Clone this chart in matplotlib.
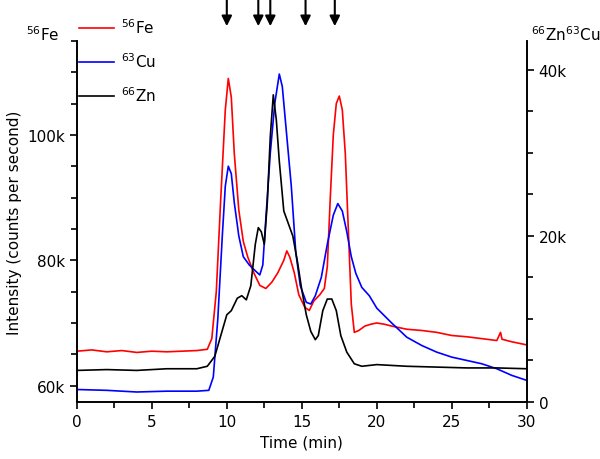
import matplotlib
matplotlib.use('Agg')
import matplotlib.pyplot as plt
from matplotlib.ticker import MultipleLocator, FuncFormatter

# 56Fe (left axis, counts per second)
fe_t = [0, 1, 2, 3, 4, 5, 6, 7, 8, 8.7, 9.0, 9.3, 9.6, 9.9, 10.1, 10.3, 10.5, 10.8,
        11.1, 11.4, 11.8, 12.2, 12.6, 13.0, 13.4, 13.8, 14.0, 14.2, 14.5, 14.8, 15.2,
        15.5, 15.8, 16.2, 16.5, 16.7, 16.9, 17.1, 17.3, 17.5, 17.7, 17.9, 18.1, 18.3,
        18.5, 18.8, 19.2, 19.6, 20.0, 20.5, 21, 22, 23, 24, 25, 26, 27, 28, 28.25,
        28.35, 29, 30]
fe_v = [65.5, 65.7, 65.4, 65.6, 65.3, 65.5, 65.4, 65.5, 65.6, 65.8, 67.5, 75, 90, 104,
        109, 106, 97, 88, 83, 80.5, 78, 76, 75.5, 76.5, 78, 80, 81.5, 80.5, 78, 74.5,
        72.5, 72, 73.5, 74.5, 75.5, 79, 90, 100, 105, 106.2, 104, 97, 85, 73, 68.5,
        68.8, 69.5, 69.8, 70, 69.8, 69.5, 69, 68.8, 68.5, 68, 67.8, 67.5, 67.2, 68.5,
        67.4, 67, 66.5]

# 63Cu (right axis)
cu_t = [0, 2, 4, 6, 8, 8.8, 9.1, 9.4, 9.7, 9.9, 10.1, 10.3, 10.5, 10.8, 11.1, 11.5,
        11.9, 12.2, 12.4, 12.6, 12.9, 13.2, 13.5, 13.7, 13.9, 14.1, 14.3, 14.6, 14.9,
        15.3, 15.6, 15.9, 16.3, 16.7, 17.1, 17.4, 17.7, 18.0, 18.3, 18.6, 19.0, 19.5,
        20, 21, 22, 23, 24, 25, 26, 27, 28, 29, 30]
cu_v = [1.5, 1.4, 1.2, 1.3, 1.3, 1.4, 3, 10, 20, 26, 28.4, 27.5, 24, 20, 17.5, 16.5,
        15.8, 15.3, 16.5, 22, 30, 36, 39.5, 38, 34, 30, 26, 18, 14, 12, 11.8, 12.8, 15,
        19, 22.5, 23.9, 23, 20.5, 17.5, 15.5, 13.8, 12.8, 11.3, 9.5, 7.8, 6.8, 6.0, 5.4,
        5.0, 4.6, 4.0, 3.2, 2.6]

# 66Zn (right axis)
zn_t = [0, 2, 4, 6, 8, 8.7, 9.2, 9.6, 10.0, 10.3, 10.7, 11.0, 11.3, 11.6, 11.9, 12.1,
        12.3, 12.5, 12.7, 12.9, 13.1, 13.3, 13.5, 13.8, 14.1, 14.4, 14.7, 15.0, 15.3,
        15.6, 15.9, 16.1, 16.4, 16.7, 17.0, 17.3, 17.6, 18.0, 18.5, 19, 20, 22, 24, 26,
        28, 30]
zn_v = [3.8, 3.9, 3.8, 4.0, 4.0, 4.3, 5.5, 8, 10.5, 11, 12.5, 12.8, 12.3, 14, 19, 21,
        20.5, 19, 24, 32, 37, 34, 29, 23, 21.5, 20, 17, 13.5, 10.5, 8.5, 7.5, 8, 11,
        12.4, 12.4, 11, 8, 6, 4.6, 4.3, 4.5, 4.3, 4.2, 4.1, 4.1, 4.0]

arrow_t = [10.0, 12.1, 12.9, 15.25, 17.2]

plt.rcParams['font.family'] = 'DejaVu Sans'
plt.rcParams['font.size'] = 11

fig = plt.figure(figsize=(6, 4.6), dpi=100)
ax = fig.add_axes([0.128, 0.124, 0.75, 0.785])
ax2 = ax.twinx()

l1, = ax.plot(fe_t, [v * 1000 for v in fe_v], color='red', lw=1.2, label='$^{56}$Fe')
l2, = ax2.plot(cu_t, [v * 1000 for v in cu_v], color='blue', lw=1.2, label='$^{63}$Cu')
l3, = ax2.plot(zn_t, [v * 1000 for v in zn_v], color='black', lw=1.2, label='$^{66}$Zn')

ax.set_xlim(0, 30)
ax.set_ylim(57400, 115000)
ax2.set_ylim(0, 43500)

kfmt = FuncFormatter(lambda v, p: '0' if v == 0 else '%dk' % round(v / 1000))
ax.xaxis.set_major_locator(MultipleLocator(5))
ax.xaxis.set_minor_locator(MultipleLocator(2.5))
ax.yaxis.set_major_locator(MultipleLocator(20000))
ax.yaxis.set_minor_locator(MultipleLocator(5000))
ax.yaxis.set_major_formatter(kfmt)
ax2.yaxis.set_major_locator(MultipleLocator(20000))
ax2.yaxis.set_minor_locator(MultipleLocator(5000))
ax2.yaxis.set_major_formatter(kfmt)

for a in (ax, ax2):
    a.spines['top'].set_visible(False)
    a.tick_params(which='both', direction='out', width=1.2)
    a.tick_params(which='major', length=5)
    a.tick_params(which='minor', length=4)
    for s in a.spines.values():
        s.set_linewidth(1.2)

ax.set_xlabel('Time (min)')
ax.set_ylabel('Intensity (counts per second)')

fig.text(0.10, 0.905, '$^{56}$Fe', ha='right', va='bottom')
fig.text(0.885, 0.905, '$^{66}$Zn$^{63}$Cu', ha='left', va='bottom')

for t in arrow_t:
    ax.annotate('', xy=(t, 1.033), xycoords=('data', 'axes fraction'),
                xytext=(t, 1.12), textcoords=('data', 'axes fraction'),
                arrowprops=dict(arrowstyle='-|>', color='black', lw=1.5, mutation_scale=15),
                annotation_clip=False)

fig.legend(handles=[l1, l2, l3], loc='upper left', bbox_to_anchor=(0.108, 0.99),
           frameon=False, handlelength=2.3, labelspacing=1.0, handletextpad=0.5)

fig.savefig('out.png', dpi=100)
